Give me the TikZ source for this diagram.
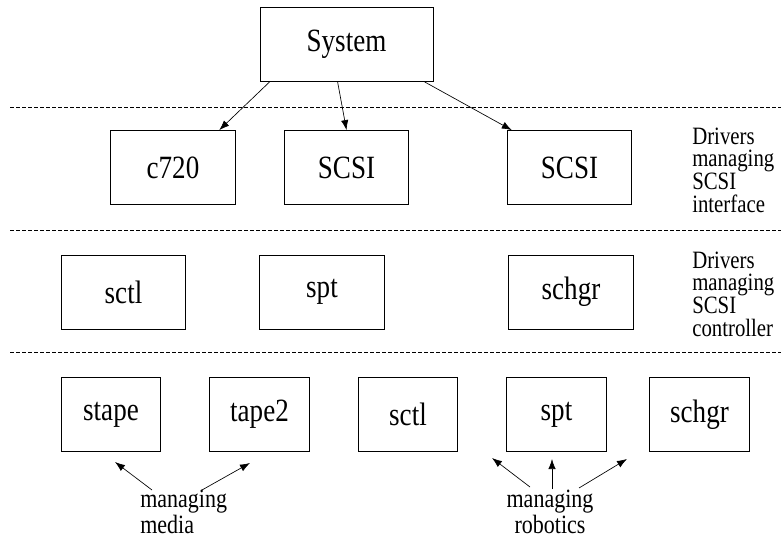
\documentclass[tikz,border=0pt]{standalone}
\usepackage{fontspec}
\setmainfont{Liberation Serif}
\usepackage{graphicx}
\usetikzlibrary{arrows.meta}

% the letters of the original are drawn a little taller than wide;
% the line keeps the height of the unstretched word
\newcommand{\tallword}[1]{\rlap{\scalebox{1}[1.2]{#1}}\phantom{#1}}

\begin{document}
\begin{tikzpicture}[
    x=0.75pt, y=-0.75pt,
    box/.style={draw, line width=0.6pt, inner sep=0pt, minimum height=55.5pt,
        font=\fontsize{20.3}{24}\selectfont},
    widebox/.style={box, minimum width=129.75pt},
    midbox/.style={box, minimum width=93.5pt},
    smallbox/.style={box, minimum width=74.5pt},
    note/.style={align=left, inner sep=0pt, font=\fontsize{15.6}{17}\selectfont},
    tag/.style={inner sep=0pt, font=\fontsize{16.5}{14.5}\selectfont},
    layer/.style={dash pattern=on 3pt off 1.5pt, line width=0.5pt},
    arr/.style={-{Latex[length=7.5pt,width=5.5pt]}, line width=0.5pt},
]

    \useasboundingbox (0,0) rectangle (781,538);

    \def\ya{44.5}     % row of the system
    \def\yb{167.5}    % drivers managing the SCSI interface
    \def\yc{292}      % drivers managing the SCSI controller
    \def\yd{414.5}    % bottom row

    % the layers
    \draw[layer] (10,107) -- (781,107);
    \draw[layer] (10,230) -- (781,230);
    \draw[layer] (10,352) -- (781,352);

    % top
    \node[widebox] (sys) at (346.5,\ya) {\tallword{System}};

    % SCSI interface
    \node[midbox] (c720)  at (173,\yb)   {\tallword{c720}};
    \node[midbox] (scsia) at (346.5,\yb) {\tallword{SCSI}};
    \node[midbox] (scsib) at (569.5,\yb) {\tallword{SCSI}};
    \node[note, anchor=west] (iface) at (692,170)
        {\tallword{Drivers}\\\tallword{managing}\\\tallword{SCSI}\\\tallword{interface}};

    % SCSI controller
    \node[note, anchor=west] (ctrl) at (692,294)
        {\tallword{Drivers}\\\tallword{managing}\\\tallword{SCSI}\\\tallword{controller}};
    \node[midbox] (sctla)  at (123.5,\yc) {\tallword{sctl}};
    \node[midbox] (spta)   at (322,\yc)   {\tallword{spt}};
    \node[midbox] (schgra) at (571,\yc)   {\tallword{schgr}};

    % bottom row
    \node[smallbox] (stape)  at (111,\yd)   {\tallword{stape}};
    \node[smallbox] (tape2)  at (259.5,\yd) {\tallword{tape2}};
    \node[smallbox] (sctlb)  at (408,\yd)   {\tallword{sctl}};
    \node[smallbox] (sptb)   at (556.5,\yd) {\tallword{spt}};
    \node[smallbox] (schgrb) at (699.5,\yd) {\tallword{schgr}};

    \node[tag, align=left, anchor=north west] (media) at (140,490)
        {\tallword{managing}\\\tallword{media}};
    \node[tag, align=center, anchor=north] (robot) at (550,490)
        {\tallword{managing}\\\tallword{robotics}};

    % the system reaches down to the interface drivers
    \draw[arr] ([xshift=7.5pt]sys.south west) -- ([xshift=81.75pt]c720.north west);
    \draw[arr] ([xshift=58.5pt]sys.south west) -- (scsia.north);
    \draw[arr] ([xshift=123.75pt]sys.south west) -- ([xshift=3.75pt]scsib.north west);

    % free tips of the short arrows
    \coordinate (m1) at (115,462);
    \coordinate (m2) at (250,463);
    \coordinate (r1) at (492,458);
    \coordinate (r2) at (552,459);
    \coordinate (r3) at (627,459);

    \draw[arr] ([shift={(9pt,0pt)}]media.north west) -- (m1);
    \draw[arr] ([shift={(46.5pt,0pt)}]media.north west) -- (m2);
    \draw[arr] ([shift={(-15pt,2.25pt)}]robot.north) -- (r1);
    \draw[arr] ([shift={(1.5pt,0.75pt)}]robot.north) -- (r2);
    \draw[arr] ([shift={(21.75pt,1.5pt)}]robot.north) -- (r3);

\end{tikzpicture}
\end{document}
